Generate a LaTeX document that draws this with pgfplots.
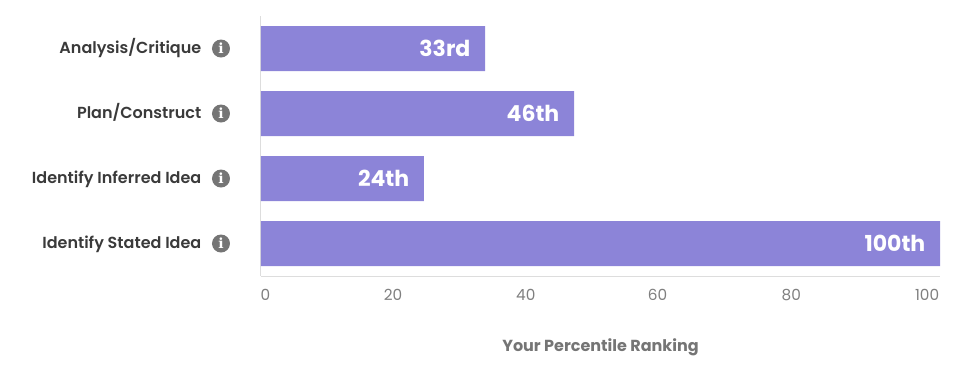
\documentclass[border=0pt]{standalone}
\usepackage{fontspec}
\setmainfont{Poppins}
\newfontfamily\semib{Poppins SemiBold}
\newfontfamily\icfont{DejaVu Serif}
\usepackage{pgfplots}
\pgfplotsset{compat=1.18}
\definecolor{barc}{HTML}{8C84D8}
\definecolor{axc}{HTML}{DDDDDD}
\definecolor{lab}{HTML}{3A3A3A}
\definecolor{tickc}{HTML}{7F7F7F}
\definecolor{icon}{HTML}{757575}
\begin{document}
\begin{tikzpicture}
\path[use as bounding box] (-261pt,-97pt) rectangle (702pt,276pt);
\begin{axis}[
  at={(0pt,0pt)}, anchor=south west,
  scale only axis, width=679pt, height=260pt,
  xmin=0, xmax=100, ymin=-0.5, ymax=3.5, y dir=reverse,
  axis x line*=bottom, axis y line*=left,
  axis line style={-, draw=axc, line width=1pt},
  major tick length=0pt,
  clip=false,
  xtick={0.65,19.45,39.0,58.4,78.1,98.1},
  xticklabels={0,20,40,60,80,100},
  ytick={0,1,2,3},
  yticklabels={Analysis/Critique,Plan/Construct,Identify Inferred Idea,Identify Stated Idea},
  x tick label style={font=\fontsize{15.3}{17}\selectfont, text=tickc, inner sep=0pt, yshift=-13pt,
     /pgf/number format/assume math mode=true},
  y tick label style={font=\fontsize{16}{18}\selectfont\semib, text=lab, inner sep=0pt, anchor=base east, xshift=-59.5pt, yshift=-5pt},
  xbar, bar width=45pt, 
  nodes near coords, point meta=explicit symbolic,
  every node near coord/.style={anchor=east, xshift=-14.5pt, text=white, inner sep=0pt, font=\fontsize{22}{24}\selectfont\bfseries},
]
\addplot[fill=barc, draw=none] table[x=v, y=y, meta=l] {
v y l
33 0 33rd
46.1 1 46th
24 2 24th
100 3 100th
};
\foreach \k in {0,1,2,3} {
  \edef\tmp{\noexpand\node[circle, fill=icon, minimum size=18pt, inner sep=0pt, text=white, font=\noexpand\fontsize{14}{14}\noexpand\selectfont\noexpand\icfont\noexpand\bfseries] at (axis cs:0,\k) [xshift=-40pt] {i};}
  \tmp
}
\end{axis}
\node[text=icon, font=\fontsize{16}{18}\selectfont\bfseries, anchor=base, inner sep=0pt] at (339.5pt,-75.5pt) {Your Percentile Ranking};
\end{tikzpicture}
\end{document}
